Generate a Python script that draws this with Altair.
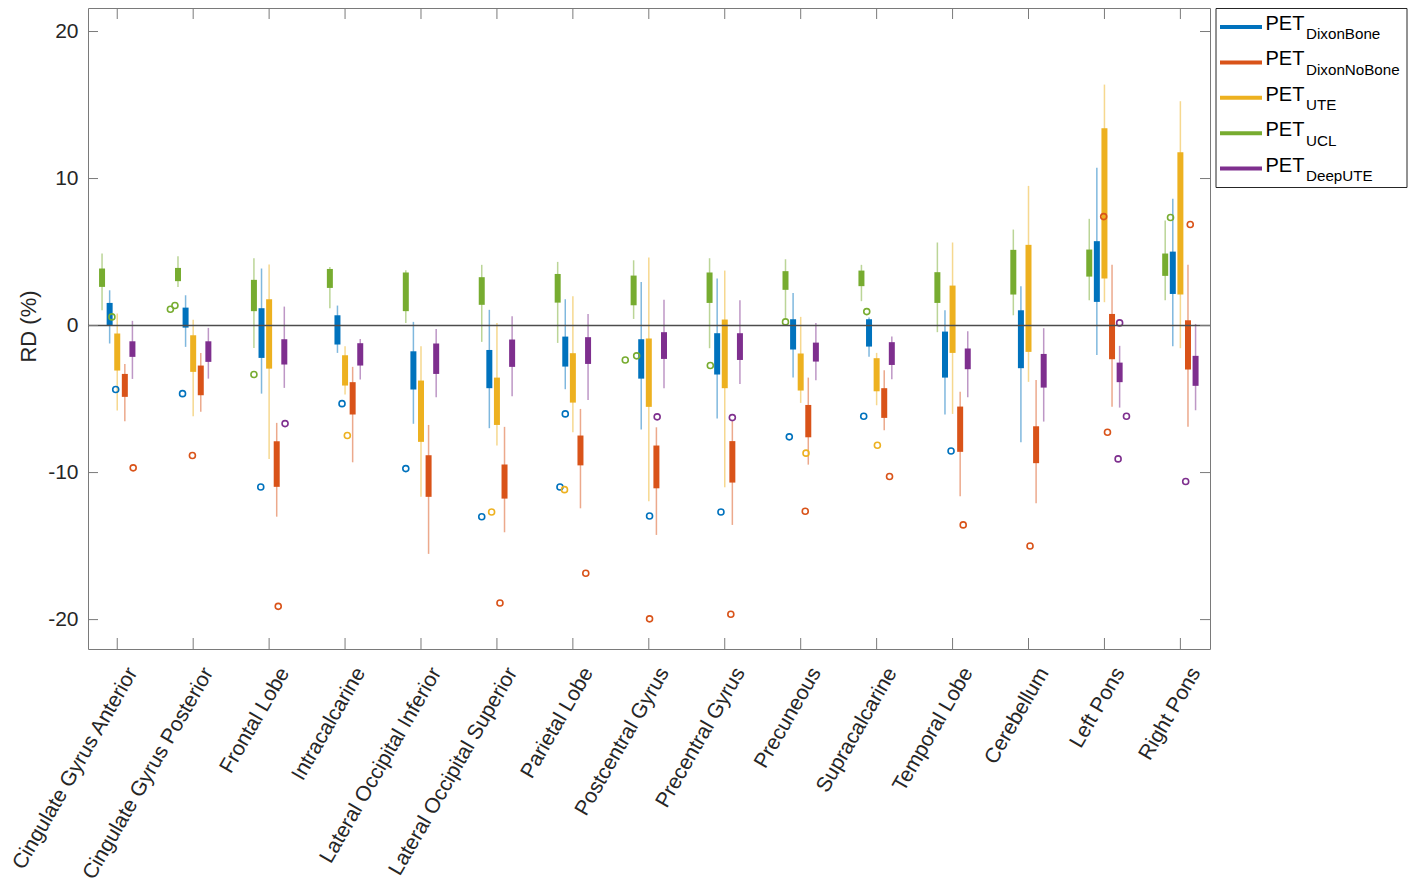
import json
import altair as alt
import pandas as pd

# ---------------- data ----------------
regions = [
    "Cingulate Gyrus Anterior", "Cingulate Gyrus Posterior", "Frontal Lobe",
    "Intracalcarine", "Lateral Occipital Inferior", "Lateral Occipital Superior",
    "Parietal Lobe", "Postcentral Gyrus", "Precentral Gyrus", "Precuneous",
    "Supracalcarine", "Temporal Lobe", "Cerebellum", "Left Pons", "Right Pons",
]

# plotting order inside each region (left to right)
methods = ["UCL", "DixonBone", "UTE", "DixonNoBone", "DeepUTE"]
colors = ["#77AC30", "#0072BD", "#EDB120", "#D95319", "#7E2F8E"]

# (lower whisker, box bottom, box top, upper whisker) per region
ucl = [
    (1.04, 2.63, 3.88, 4.90), (2.63, 3.02, 3.92, 4.72), (-1.52, 0.98, 3.11, 4.58),
    (1.18, 2.56, 3.85, 3.99), (0.18, 0.98, 3.61, 3.76), (-1.11, 1.41, 3.29, 4.13),
    (-1.18, 1.56, 3.51, 4.33), (0.45, 1.38, 3.40, 4.44), (-1.54, 1.54, 3.61, 4.58),
    (0.52, 2.43, 3.70, 4.51), (1.66, 2.68, 3.74, 4.13), (-0.45, 1.54, 3.63, 5.65),
    (0.70, 2.11, 5.15, 6.53), (1.72, 3.33, 5.17, 7.26), (1.72, 3.38, 4.90, 7.14),
]
dixon_bone = [
    (-1.22, 0.00, 1.54, 2.40), (-1.45, -0.14, 1.22, 2.06), (-4.63, -2.20, 1.18, 3.88),
    (-1.86, -1.29, 0.70, 1.36), (-6.68, -4.35, -1.75, 0.25), (-6.98, -4.26, -1.66, 1.07),
    (-4.33, -2.79, -0.75, 1.79), (-7.07, -3.61, -0.93, 2.97), (-6.33, -3.33, -0.52, 3.20),
    (-3.54, -1.63, 0.43, 2.22), (-2.13, -1.43, 0.43, 0.55), (-6.05, -3.54, -0.41, 1.04),
    (-7.94, -2.90, 1.04, 2.68), (-2.00, 1.61, 5.74, 10.73), (-1.41, 2.15, 5.03, 8.62),
]
ute = [
    (-5.78, -3.06, -0.54, 0.82), (-6.17, -3.15, -0.66, 0.39), (-9.07, -2.93, 1.79, 4.15),
    (-4.69, -4.08, -2.02, -1.41), (-11.65, -7.91, -3.74, -1.41), (-8.16, -6.76, -3.54, 0.18),
    (-7.26, -5.24, -1.88, 2.00), (-11.95, -5.53, -0.88, 4.63), (-11.00, -4.26, 0.41, 3.74),
    (-5.26, -4.42, -1.90, 0.59), (-5.42, -4.47, -2.22, -1.86), (-6.01, -1.86, 2.72, 5.65),
    (-3.83, -1.79, 5.49, 9.50), (1.59, 3.20, 13.42, 16.39), (-1.54, 2.11, 11.79, 15.26),
]
dixon_nobone = [
    (-6.51, -4.85, -3.29, -2.61), (-5.87, -4.74, -2.72, -1.86), (-13.00, -10.97, -7.87, -6.62),
    (-9.30, -6.05, -3.85, -2.81), (-15.53, -11.65, -8.82, -6.76), (-14.06, -11.77, -9.45, -6.89),
    (-12.43, -9.51, -7.48, -5.67), (-14.24, -11.07, -8.16, -6.92), (-13.56, -10.68, -7.86, -6.51),
    (-9.46, -7.60, -5.40, -3.54), (-7.12, -6.28, -4.26, -3.04), (-11.61, -8.59, -5.51, -4.51),
    (-12.09, -9.36, -6.85, -3.70), (-5.53, -2.29, 0.79, 4.13), (-6.89, -2.99, 0.36, 4.13),
]
deep_ute = [
    (-3.63, -2.13, -1.07, 0.32), (-3.61, -2.47, -1.07, -0.16), (-4.24, -2.65, -0.93, 1.29),
    (-3.67, -2.72, -1.20, -0.91), (-4.88, -3.29, -1.22, -0.23), (-4.81, -2.81, -0.95, 0.63),
    (-5.06, -2.61, -0.79, 0.79), (-4.26, -2.27, -0.45, 1.75), (-3.97, -2.34, -0.52, 1.72),
    (-3.72, -2.45, -1.16, 0.18), (-3.65, -2.68, -1.13, -0.75), (-4.88, -2.97, -1.56, -0.39),
    (-6.53, -4.22, -1.93, -0.18), (-5.58, -3.85, -2.52, -1.38), (-5.76, -4.10, -2.06, 0.11),
]
stats = {"UCL": ucl, "DixonBone": dixon_bone, "UTE": ute,
         "DixonNoBone": dixon_nobone, "DeepUTE": deep_ute}

# outliers: region number, method, value, horizontal jitter (as drawn)
outlier_region = [1, 1, 1,
                  2, 2, 2, 2,
                  3, 3, 3, 3,
                  4, 4,
                  5,
                  6, 6, 6,
                  7, 7, 7, 7,
                  8, 8, 8, 8, 8,
                  9, 9, 9, 9,
                  10, 10, 10, 10,
                  11, 11, 11, 11,
                  12, 12,
                  13,
                  14, 14, 14, 14, 14,
                  15, 15, 15]
outlier_method = ["UCL", "DixonBone", "DixonNoBone",
                  "UCL", "UCL", "DixonBone", "DixonNoBone",
                  "UCL", "DixonBone", "DixonNoBone", "DeepUTE",
                  "DixonBone", "UTE",
                  "DixonBone",
                  "DixonBone", "UTE", "DixonNoBone",
                  "DixonBone", "DixonBone", "UTE", "DixonNoBone",
                  "UCL", "UCL", "DixonBone", "DixonNoBone", "DeepUTE",
                  "UCL", "DixonBone", "DixonNoBone", "DeepUTE",
                  "UCL", "DixonBone", "UTE", "DixonNoBone",
                  "UCL", "DixonBone", "UTE", "DixonNoBone",
                  "DixonBone", "DixonNoBone",
                  "DixonNoBone",
                  "DixonNoBone", "DixonNoBone", "DeepUTE", "DeepUTE", "DeepUTE",
                  "UCL", "DixonNoBone", "DeepUTE"]
outlier_value = [0.59, -4.35, -9.68,
                 1.11, 1.36, -4.63, -8.84,
                 -3.33, -10.98, -19.10, -6.67,
                 -5.31, -7.48,
                 -9.73,
                 -13.00, -12.68, -18.87,
                 -6.01, -10.98, -11.16, -16.85,
                 -2.34, -2.06, -12.95, -19.95, -6.21,
                 -2.72, -12.68, -19.64, -6.26,
                 0.25, -7.57, -8.68, -12.63,
                 0.95, -6.17, -8.14, -10.27,
                 -8.53, -13.56,
                 -14.99,
                 7.41, -7.26, 0.18, -6.17, -9.07,
                 7.35, 6.87, -10.61]
outlier_jitter = [0.13, 0.08, 0.11,
                  -0.10, -0.04, -0.04, -0.11,
                  0.00, -0.01, 0.02, 0.01,
                  0.06, 0.03,
                  -0.10,
                  -0.10, -0.07, -0.06,
                  0.00, -0.07, -0.11, 0.07,
                  -0.11, 0.04, 0.11, -0.09, -0.09,
                  0.01, 0.05, -0.02, -0.10,
                  0.00, -0.05, 0.07, -0.04,
                  0.07, -0.07, 0.01, 0.07,
                  0.08, 0.04,
                  -0.08,
                  -0.11, -0.06, 0.00, 0.09, -0.02,
                  0.07, 0.03, -0.13]

legend_methods = ["DixonBone", "DixonNoBone", "UTE", "UCL", "DeepUTE"]
legend_main = "PET"
y_ticks = [-20, -10, 0, 10, 20]

# ---------------- layout ----------------
W, H = 1122, 641
FONT = "Liberation Sans"
TXT = "#262626"
AX = "#7a7a7a"
STEP = 0.1
slot = {m: (i - 2) * STEP for i, m in enumerate(methods)}
color_of = dict(zip(methods, colors))

rows = []
for m in methods:
    for r, (wlo, q1, q3, whi) in enumerate(stats[m], start=1):
        rows.append(dict(method=m, pos=r + slot[m], wlo=wlo, q1=q1, q3=q3, whi=whi))
box_df = pd.DataFrame(rows)

out_df = pd.DataFrame(dict(
    method=outlier_method,
    pos=[r + slot[m] + j for r, m, j in zip(outlier_region, outlier_method, outlier_jitter)],
    value=outlier_value,
))

xscale = alt.Scale(domain=[0.615, 15.39], nice=False, zero=False)
yscale = alt.Scale(domain=[-22, 21.6], nice=False, zero=False)
cscale = alt.Scale(domain=methods, range=colors)

label_arr = json.dumps(regions)
xaxis = alt.Axis(
    values=list(range(1, 16)), labelExpr=f"{label_arr}[datum.value - 1]",
    labelAngle=300, labelAlign="right", labelBaseline="middle",
    labelFontSize=21, labelFont=FONT, labelColor=TXT, labelLimit=1000,
    labelPadding=20, labelOffset=15, labelOverlap=False, labelFlush=False,
    labelBound=False, domain=False, ticks=False, tickSize=0, grid=False, title=None,
)
yaxis = alt.Axis(
    values=y_ticks, labelExpr="'' + datum.value",
    labelFontSize=21, labelFont=FONT, labelColor=TXT, labelPadding=10,
    domain=False, ticks=False, tickSize=0, grid=False,
    title="RD (%)", titleFont=FONT, titleFontSize=22, titleFontWeight="normal",
    titleColor=TXT, titleX=-60, titleY=318, titleAngle=270,
    titleAlign="center", titleBaseline="middle",
)

X = lambda f: alt.X(f, scale=xscale, axis=xaxis)
Y = lambda f: alt.Y(f, scale=yscale, axis=yaxis)
C = alt.Color("method:N", scale=cscale, legend=None)

whiskers = alt.Chart(box_df).mark_rule(strokeWidth=1.5, opacity=0.5).encode(
    x=X("pos:Q"), y=Y("wlo:Q"), y2="whi:Q", color=C)
boxes = alt.Chart(box_df).mark_rule(strokeWidth=6).encode(
    x=X("pos:Q"), y=Y("q1:Q"), y2="q3:Q", color=C)
outliers = alt.Chart(out_df).mark_point(shape="circle", filled=False, size=36,
                                        strokeWidth=1.6, opacity=1).encode(
    x=X("pos:Q"), y=Y("value:Q"), color=C)

zero_line = alt.Chart(pd.DataFrame({"z": [0]})).mark_rule(
    color="#4d4d4d", strokeWidth=1.5).encode(
    y=Y("z:Q"), x=alt.value(0), x2=alt.value(W))

ytick_df = pd.DataFrame({"t": y_ticks})
xtick_df = pd.DataFrame({"t": list(range(1, 16))})
tick_layers = [
    alt.Chart(ytick_df).mark_rule(color=AX, strokeWidth=1).encode(
        y=Y("t:Q"), x=alt.value(0), x2=alt.value(10)),
    alt.Chart(ytick_df).mark_rule(color=AX, strokeWidth=1).encode(
        y=Y("t:Q"), x=alt.value(W - 10), x2=alt.value(W)),
    alt.Chart(xtick_df).mark_rule(color=AX, strokeWidth=1).encode(
        x=X("t:Q"), y=alt.value(H), y2=alt.value(H - 11)),
    alt.Chart(xtick_df).mark_rule(color=AX, strokeWidth=1).encode(
        x=X("t:Q"), y=alt.value(0), y2=alt.value(11)),
]

# ---------------- legend (drawn by hand to allow subscripts) ----------------
one = pd.DataFrame({"a": [0]})
legend_layers = [
    alt.Chart(one).mark_rect(fill="white", stroke=TXT, strokeWidth=1).encode(
        x=alt.value(1128), x2=alt.value(1319), y=alt.value(0.5), y2=alt.value(179.5))
]
ROW = 35.4
for i, m in enumerate(legend_methods):
    legend_layers.append(
        alt.Chart(one).mark_rule(strokeWidth=4, color=color_of[m]).encode(
            x=alt.value(1132), x2=alt.value(1174), y=alt.value(19 + ROW * i)))
    legend_layers.append(
        alt.Chart(one).mark_text(align="left", baseline="alphabetic", fontSize=20,
                                 font=FONT, color="black").encode(
            x=alt.value(1177.5), y=alt.value(22 + ROW * i), text=alt.value(legend_main)))
    legend_layers.append(
        alt.Chart(one).mark_text(align="left", baseline="alphabetic", fontSize=15.2,
                                 font=FONT, color="black").encode(
            x=alt.value(1218), y=alt.value(31.3 + ROW * i), text=alt.value(m)))

chart = alt.layer(
    whiskers, boxes, outliers, zero_line, *tick_layers, *legend_layers
).properties(
    width=W, height=H,
    autosize=alt.AutoSizeParams(type="none"),
    padding={"left": 80, "top": 0, "right": 200, "bottom": 234},
).configure_view(stroke=AX, strokeWidth=1)

chart.save("out.html", embed_options={"renderer": "svg", "actions": False})
